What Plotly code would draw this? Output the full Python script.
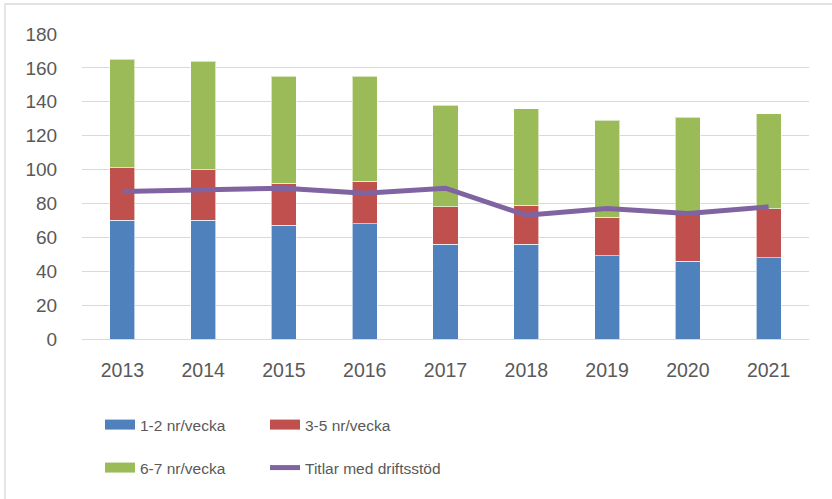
import plotly.graph_objects as go

years = ["2013", "2014", "2015", "2016", "2017", "2018", "2019", "2020", "2021"]
s12 = [70, 70, 67, 68, 56, 56, 49, 46, 48]
s35 = [31, 30, 25, 25, 22, 23, 23, 29, 29]
s67 = [64, 64, 63, 62, 60, 57, 57, 56, 56]
titlar = [87, 88, 89, 86, 89, 73, 77, 74, 78]
names = ["1-2 nr/vecka", "3-5 nr/vecka", "6-7 nr/vecka", "Titlar med driftsstöd"]
colors = ["#4F81BD", "#C0504D", "#9BBB59", "#8064A2"]

FONT = "Liberation Sans, Arial, sans-serif"
TXT = "#595959"

fig = go.Figure()
for vals, nm, col in zip([s12, s35, s67], names[:3], colors[:3]):
    fig.add_trace(go.Bar(x=years, y=vals, name=nm, marker=dict(color=col, line=dict(color="rgba(255,255,255,0.6)", width=1)),
                         showlegend=False, legendgroup=nm))
fig.add_trace(go.Scatter(x=years, y=titlar, name=names[3], mode="lines",
                         line=dict(color=colors[3], width=5), showlegend=False))

L, R, T, B = 82, 23, 34, 160
W, H = 832, 499
pw, ph = W - L - R, H - T - B

def px(x):
    return (x - L) / pw

def py(y):
    return (H - B - y) / ph

# legend entries, one legend per entry (2x2 grid)
leg_ids = ["legend", "legend2", "legend3", "legend4"]
leg_pos = [(100, 425), (265, 425), (100, 468), (265, 468)]
legend_layout = {}
for i, (nm, col) in enumerate(zip(names, colors)):
    w = 13 if i < 3 else 5
    fig.add_trace(go.Scatter(x=[None], y=[None], name=nm, mode="lines",
                             line=dict(color=col, width=w), legendgroup=nm,
                             legend=leg_ids[i], showlegend=True))
    lx, ly = leg_pos[i]
    legend_layout[leg_ids[i]] = dict(orientation="h", x=px(lx), y=py(ly), xanchor="left", yanchor="middle",
                                     font=dict(size=15.5, color=TXT), bgcolor="rgba(0,0,0,0)",
                                     itemwidth=30)

fig.update_layout(
    width=W, height=H,
    margin=dict(l=L, r=R, t=T, b=B, autoexpand=False),
    paper_bgcolor="white", plot_bgcolor="white",
    barmode="stack", bargap=0.69,
    font=dict(family=FONT, color=TXT, size=19),
    xaxis=dict(showgrid=False, showline=False, zeroline=False,
               ticks="outside", ticklen=14, tickcolor="rgba(0,0,0,0)",
               tickfont=dict(size=19.5, color=TXT)),
    yaxis=dict(range=[0, 180], dtick=20, showgrid=True, gridcolor="#D9D9D9", gridwidth=1.3,
               zeroline=True, zerolinecolor="#D9D9D9", zerolinewidth=1.3, showline=False,
               ticks="outside", ticklen=20, tickcolor="rgba(0,0,0,0)",
               tickfont=dict(size=19, color=TXT)),
    shapes=[dict(type="rect", xref="paper", yref="paper",
                 x0=px(5), x1=px(840), y0=py(510), y1=py(4),
                 line=dict(color="#D9D9D9", width=1.3), fillcolor="rgba(0,0,0,0)", layer="below")],
    **legend_layout,
)

fig.write_html("out.html", config={"displayModeBar": False},
               post_script="document.body.style.margin='0';")
